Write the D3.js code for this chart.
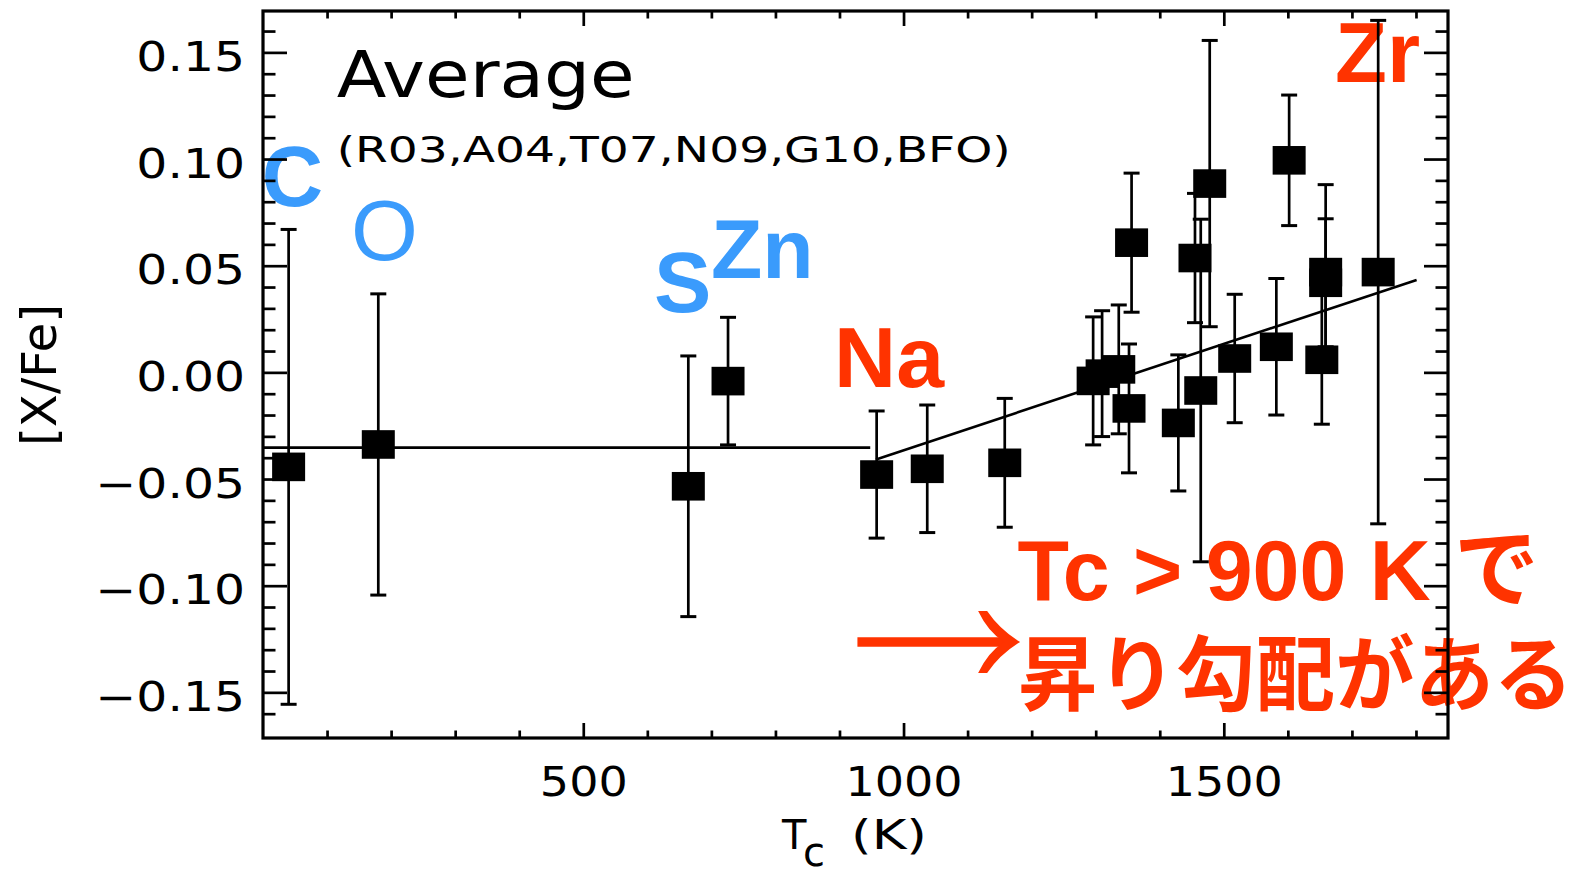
<!DOCTYPE html>
<html><head><meta charset="utf-8">
<script src="https://cdn.jsdelivr.net/npm/d3@7"></script>
<style>html,body{margin:0;padding:0;background:#fff;} svg{display:block;}</style>
</head><body>
<svg id="chart" width="1589" height="869"></svg>
<script>
// ---- data ----
const elements = ["C","O","S","Zn","Na","Cu","Mn","Cr","Si","Mg","Co","Eu","V","Ba","Sr","Ce","Ca","Ti","Nd","Al","Sc","Y","Zr"];
const tcK      = [40,180,664,726,958,1037,1158,1296,1310,1336,1352,1356,1429,1455,1464,1478,1517,1582,1602,1653,1659,1659,1741];
const xFe      = [-0.0443,-0.0338,-0.0534,-0.0041,-0.0479,-0.0452,-0.0424,-0.0040,-0.0006,0.0014,-0.0169,0.0608,-0.0237,0.0536,-0.0085,0.0885,0.0065,0.0120,0.0994,0.0059,0.0420,0.0470,0.0470];
const xFeErr   = [0.1113,0.0706,0.0611,0.0299,0.0298,0.0299,0.0302,0.0300,0.0295,0.0302,0.0302,0.0326,0.0319,0.0303,0.0803,0.0671,0.0301,0.0320,0.0306,0.0302,0.0300,0.0410,0.1180];
const fitLowT  = [0, 948];
const fitLowV  = [-0.0353, -0.0353];
const fitHighT = [957, 1801];
const fitHighV = [-0.0408, 0.0433];
const yMajorTicks = [-0.15,-0.10,-0.05,0,0.05,0.10,0.15];
const yMinorTicks = [-0.16,-0.14,-0.13,-0.12,-0.11,-0.09,-0.08,-0.07,-0.06,-0.04,-0.03,-0.02,-0.01,0.01,0.02,0.03,0.04,0.06,0.07,0.08,0.09,0.11,0.12,0.13,0.14,0.16];
const xMajorTicks = [500,1000,1500];
const xMinorTicks = [100,200,300,400,600,700,800,900,1100,1200,1300,1400,1600,1700,1800];
const titleText = "Average";
const sourceText = "(R03,A04,T07,N09,G10,BFO)";
const blueLabels = ["C","O","S","Zn"];
const redLabels = ["Na","Zr"];
const noteLine1 = "Tc > 900 K で";
const noteLine2 = "昇り勾配がある";

// ---- setup ----
const W = 1589, H = 869;
const L = 263, R = 1448, T = 11, B = 738;
const BLUE = "#3a9bfc", RED = "#ff3300";
const svg = d3.select("#chart");
svg.append("rect").attr("width", W).attr("height", H).attr("fill", "#fff");

const x = d3.scaleLinear().domain([0, 1850]).range([L, R]);
const y = d3.scaleLinear().domain([-0.1714, 0.1694]).range([B, T]);

function stretch(sel, k) {
  sel.each(function () {
    const w = this.getComputedTextLength();
    d3.select(this).attr("textLength", w * k).attr("lengthAdjust", "spacingAndGlyphs");
  });
}

// ---- annotations (drawn beneath the plot lines) ----
const ann = svg.append("g");
ann.append("text").text(titleText)
  .attr("x", x(115)).attr("y", y(0.1292))
  .attr("font-family", "DejaVu Sans").attr("font-size", 64)
  .attr("textLength", 298).attr("lengthAdjust", "spacingAndGlyphs");
ann.append("text").text(sourceText)
  .attr("x", x(115)).attr("y", y(0.0987))
  .attr("font-family", "DejaVu Sans").attr("font-size", 35)
  .attr("textLength", 674).attr("lengthAdjust", "spacingAndGlyphs");

const labelAnchors = {
  C:  {T: -2,    v: 0.0782, w: 700, s: 85},
  O:  {T: 137.4, v: 0.0529, w: 400, s: 86},
  S:  {T: 610.4, v: 0.0283, w: 700, s: 86},
  Zn: {T: 699.4, v: 0.0441, w: 700, s: 84},
  Na: {T: 891.6, v: -0.0067, w: 700, s: 86},
  Zr: {T: 1673.6, v: 0.1363, w: 700, s: 85}
};
blueLabels.concat(redLabels).forEach(el => {
  const a = labelAnchors[el];
  ann.append("text").text(el)
    .attr("x", x(a.T)).attr("y", y(a.v))
    .attr("font-family", "Liberation Sans, Arial, sans-serif")
    .attr("font-weight", a.w).attr("font-size", a.s)
    .attr("fill", blueLabels.includes(el) ? BLUE : RED);
});

ann.append("text").text(noteLine1)
  .attr("x", x(1177.9)).attr("y", y(-0.1067))
  .attr("font-family", "Liberation Sans, Noto Sans CJK JP, sans-serif")
  .attr("font-weight", 700).attr("font-size", 86).attr("fill", RED)
  .attr("textLength", 521).attr("lengthAdjust", "spacingAndGlyphs");
ann.append("text").text(noteLine2)
  .attr("x", x(1178.7)).attr("y", y(-0.1555))
  .attr("font-family", "Noto Sans CJK JP, sans-serif")
  .attr("font-weight", 700).attr("font-size", 82).attr("fill", RED)
  .attr("textLength", 555).attr("lengthAdjust", "spacingAndGlyphs");

// arrow
const arrowY = y(-0.1264), tipX = x(1182), tailX = x(928);
ann.append("line").attr("x1", tailX).attr("x2", tipX - 12).attr("y1", arrowY).attr("y2", arrowY)
  .attr("stroke", RED).attr("stroke-width", 9.5);
ann.append("path")
  .attr("transform", `translate(${tipX},${arrowY})`)
  .attr("d", "M0,0 Q-20,-12 -33,-31 L-42,-31 Q-32,-10 -16,0 Q-32,10 -42,31 L-33,31 Q-20,12 0,0 Z")
  .attr("fill", RED);

// ---- fit lines ----
const line = d3.line().x(d => x(d[0])).y(d => y(d[1]));
svg.append("path").datum(d3.zip(fitLowT, fitLowV)).attr("d", line)
  .attr("fill", "none").attr("stroke", "#000").attr("stroke-width", 2.6);
svg.append("path").datum(d3.zip(fitHighT, fitHighV)).attr("d", line)
  .attr("fill", "none").attr("stroke", "#000").attr("stroke-width", 2.6);

// ---- error bars and squares ----
const pts = elements.map((e, i) => ({el: e, t: tcK[i], v: xFe[i], err: xFeErr[i]}));
const eb = svg.append("g").attr("stroke", "#000").attr("stroke-width", 2.7);
pts.forEach(d => {
  const cx = x(d.t), y1 = y(d.v + d.err), y2 = y(d.v - d.err);
  eb.append("line").attr("x1", cx).attr("x2", cx).attr("y1", y1).attr("y2", y2);
  eb.append("line").attr("x1", cx - 8).attr("x2", cx + 8).attr("y1", y1).attr("y2", y1).attr("stroke-width", 3);
  eb.append("line").attr("x1", cx - 8).attr("x2", cx + 8).attr("y1", y2).attr("y2", y2).attr("stroke-width", 3);
});
svg.append("g").selectAll("rect").data(pts).join("rect")
  .attr("x", d => x(d.t) - 16.5).attr("y", d => y(d.v) - 14.3)
  .attr("width", 33).attr("height", 28.6).attr("fill", "#000");

// ---- axes (ticks inward on all four sides) ----
const fmt = d3.format(".2f");
function styleAxis(g) {
  g.select(".domain").remove();
  g.selectAll(".tick line").attr("stroke", "#000").attr("stroke-width", 2.7);
}
// left
const gL = svg.append("g").attr("transform", `translate(${L},0)`)
  .call(d3.axisLeft(y).tickValues(yMajorTicks).tickSize(-24).tickPadding(18).tickFormat(fmt)).call(styleAxis);
gL.selectAll("text").attr("font-family", "DejaVu Sans").attr("font-size", 40).attr("fill", "#000").attr("dy", "18px");
stretch(gL.selectAll("text"), 1.22);
svg.append("g").attr("transform", `translate(${L},0)`)
  .call(d3.axisLeft(y).tickValues(yMinorTicks).tickSize(-12.5).tickFormat("")).call(styleAxis);
// right
svg.append("g").attr("transform", `translate(${R},0)`)
  .call(d3.axisRight(y).tickValues(yMajorTicks).tickSize(-24).tickFormat("")).call(styleAxis);
svg.append("g").attr("transform", `translate(${R},0)`)
  .call(d3.axisRight(y).tickValues(yMinorTicks).tickSize(-12.5).tickFormat("")).call(styleAxis);
// bottom
const gB = svg.append("g").attr("transform", `translate(0,${B})`)
  .call(d3.axisBottom(x).tickValues(xMajorTicks).tickSize(-15).tickPadding(30).tickFormat(d3.format("d"))).call(styleAxis);
gB.selectAll("text").attr("font-family", "DejaVu Sans").attr("font-size", 40).attr("fill", "#000");
stretch(gB.selectAll("text"), 1.15);
svg.append("g").attr("transform", `translate(0,${B})`)
  .call(d3.axisBottom(x).tickValues(xMinorTicks).tickSize(-7.5).tickFormat("")).call(styleAxis);
// top
svg.append("g").attr("transform", `translate(0,${T})`)
  .call(d3.axisTop(x).tickValues(xMajorTicks).tickSize(-15).tickFormat("")).call(styleAxis);
svg.append("g").attr("transform", `translate(0,${T})`)
  .call(d3.axisTop(x).tickValues(xMinorTicks).tickSize(-7.5).tickFormat("")).call(styleAxis);

// frame
svg.append("rect").attr("x", L).attr("y", T).attr("width", R - L).attr("height", B - T)
  .attr("fill", "none").attr("stroke", "#000").attr("stroke-width", 3.2);

// ---- axis titles ----
const xt = svg.append("g").attr("font-family", "DejaVu Sans").attr("font-size", 40).attr("fill", "#000");
xt.append("text").text("T").attr("x", 782).attr("y", 849);
xt.append("text").text("c").attr("x", 803).attr("y", 866);
xt.append("text").text("(K)").attr("x", 851).attr("y", 849)
  .attr("textLength", 76).attr("lengthAdjust", "spacingAndGlyphs");

svg.append("text").text("[X/Fe]")
  .attr("transform", "translate(56,375) rotate(-90)")
  .attr("text-anchor", "middle")
  .attr("font-family", "DejaVu Sans").attr("font-size", 48).attr("fill", "#000")
  .attr("textLength", 142).attr("lengthAdjust", "spacingAndGlyphs");
</script>
</body></html>
